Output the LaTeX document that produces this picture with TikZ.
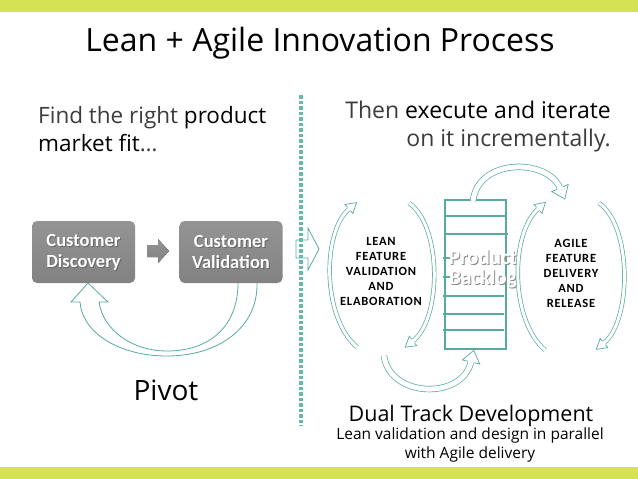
\documentclass[tikz,border=0pt]{standalone}
\usepackage{fontspec}
\setmainfont{Open Sans}
\newfontfamily\calib{Carlito}
\newfontfamily\capsfont[LetterSpace=6]{Carlito}
\definecolor{lime}{RGB}{212,226,84}
\definecolor{tealc}{RGB}{86,172,160}
\definecolor{dotc}{RGB}{100,186,172}
\definecolor{boxtop}{RGB}{148,148,148}
\definecolor{boxbot}{RGB}{130,130,130}
\definecolor{lighttxt}{RGB}{60,60,60}
% hollow arrow head: tip-base point, angle, half shaft, half width, length
\newcommand\hollowhead[5]{%
  \begin{scope}[shift={(#1)}, rotate={#2}]
    \fill[white] (-0.6,#4) -- (#5,0) -- (-0.6,-#4) -- cycle;
    \draw[tealc, line width=0.7pt, line join=miter] (0,#3) -- (0,#4) -- (#5,0) -- (0,-#4) -- (0,-#3);
  \end{scope}}
\tikzset{
  fatshaft/.style={draw=tealc, line width=0.7pt, double=white, double distance=#1pt},
  graybox/.style={rounded corners=5pt, minimum width=103pt, minimum height=62pt, top color=boxtop, bottom color=boxbot, draw=none, inner sep=0pt},
  boxtxt/.style={font=\calib\bfseries\fontsize{18.5}{21}\selectfont, align=center, inner sep=0pt},
  capstxt/.style={font=\capsfont\bfseries\fontsize{12.5}{15}\selectfont, align=center, inner sep=0pt},
  blline/.style={draw=tealc, line width=1.1pt},
  pbtxt/.style={font=\calib\bfseries\fontsize{21}{20}\selectfont, align=center, inner sep=0pt},
}
\begin{document}
\begin{tikzpicture}[x=1pt,y=-1pt]
\useasboundingbox (0,0) rectangle (638,479);
\fill[white] (0,0) rectangle (638,479);
\fill[lime] (0,0) rectangle (638,12);
\fill[lime] (0,467) rectangle (638,479);

% title
\node[anchor=base, inner sep=0pt, font=\fontsize{32}{38}\selectfont] (title) at (320,52) {Lean + Agile Innovation Process};

% left headline
\node[anchor=base west, inner sep=0pt, font=\fontsize{22.5}{27}\selectfont] (find1) at (38,123) {\textcolor{lighttxt}{Find the right} product};
\node[anchor=base west, inner sep=0pt, font=\fontsize{22.5}{27}\selectfont] (find2) at (38,151) {market fit\textcolor{lighttxt}{\dots}};

% right headline
\node[anchor=base east, inner sep=0pt, font=\fontsize{23}{27}\selectfont] (then1) at (611,118) {\textcolor{lighttxt}{Then} execute and iterate};
\node[anchor=base east, inner sep=0pt, font=\fontsize{23}{27}\selectfont, text=lighttxt] (then2) at (611,146) {on it incrementally.};

% pivot arrow
\draw[tealc, line width=0.8pt, fill=white, line join=miter]
  (257,283) .. controls (258,328) and (218,356) .. (167,356)
  .. controls (118,356) and (82,332) .. (80,302)
  -- (71,302) -- (88,283) -- (108,302) -- (99,302)
  .. controls (103,330) and (132,351) .. (167,351)
  .. controls (210,351) and (238,326) .. (238,283);

% gray boxes
\node[graybox] (cd) at (83.5,252) {};
\node[graybox] (cv) at (231,252) {};
\node[boxtxt, text=black!60] at ([shift={(1,1)}]cd.center) {Customer\\Discovery};
\node[boxtxt, text=white] (cdt) at (cd.center) {Customer\\Discovery};
\node[boxtxt, text=black!60] at ([shift={(1,1)}]cv.center) {Customer\\Validation};
\node[boxtxt, text=white] (cvt) at (cv.center) {Customer\\Validation};

% gray block arrow
\fill[top color=boxtop, bottom color=boxbot] (147,245) -- (158,245) -- (158,239) -- (169,251) -- (158,263) -- (158,257) -- (147,257) -- cycle;

\node[anchor=base, inner sep=0pt, font=\fontsize{28}{34}\selectfont] (pivot) at (166,400) {Pivot};

% small hollow arrow at divider
\draw[tealc, line width=0.8pt, line join=miter] (296,240) -- (308,240) -- (308,228) -- (319,249) -- (308,270) -- (308,258) -- (296,258) -- cycle;

% dotted divider
\draw[dotc, line width=3.5pt, dash pattern=on 3.5pt off 2pt] (301,95) -- (301,426);

% product backlog
\draw[blline] (445,200) rectangle (506,349);
\foreach \yy/\xa/\xb in {216/445/506, 234/446/508, 296/443/504, 314/443/504, 330/443/504}
  \draw[blline] (\xa,\yy) -- (\xb,\yy);
\draw[blline] (443,258) -- (450,258);
\draw[blline] (443,277) -- (450,277);
\node[pbtxt, text=black!45] at (484,270) {Product\\Backlog};
\node[pbtxt, text=white] (pb) at (483,269) {Product\\Backlog};

% left ring
\draw[fatshaft=3] (357,347) .. controls (322,318) and (322,232) .. (349,209);
\hollowhead{349,209}{atan2(23,27)}{2.2}{6}{10}
\draw[fatshaft=3] (409,203) .. controls (442,226) and (442,318) .. (413,341);
\hollowhead{413,341}{atan2(-23,-29)}{2.2}{6}{10}
\node[capstxt] (lean) at (381,271) {LEAN\\FEATURE\\VALIDATION\\AND\\ELABORATION};

% right ring
\draw[fatshaft=3] (545,350) .. controls (510,320) and (510,234) .. (538,209);
\hollowhead{538,209}{atan2(25,28)}{2.2}{6}{10}
\draw[fatshaft=3] (599,203) .. controls (632,226) and (632,320) .. (604,343);
\hollowhead{604,343}{atan2(-23,-28)}{2.2}{6}{10}
\node[capstxt] (agile) at (571,273) {AGILE\\FEATURE\\DELIVERY\\AND\\RELEASE};

% top and bottom arcs
\draw[fatshaft=5] (473,201) .. controls (478,158) and (547,158) .. (560,188);
\hollowhead{560,188}{atan2(-30,13)}{3.2}{9}{12}
\draw[fatshaft=5] (384,356) .. controls (390,398) and (462,400) .. (471,362);
\hollowhead{471,362}{atan2(38,9)}{3.2}{9}{12}

% bottom texts
\node[anchor=base, inner sep=0pt, font=\fontsize{21.5}{26}\selectfont] (dual) at (471,421) {Dual Track Development};
\node[anchor=base, inner sep=0pt, font=\fontsize{15.5}{18}\selectfont] (lean2) at (470,439) {Lean validation and design in parallel};
\node[anchor=base, inner sep=0pt, font=\fontsize{15.5}{18}\selectfont] (agile2) at (470,458) {with Agile delivery};
\end{tikzpicture}
\end{document}
